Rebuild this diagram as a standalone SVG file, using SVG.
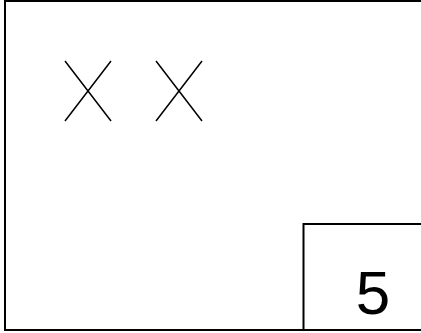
<svg xmlns="http://www.w3.org/2000/svg" width="421" height="333" viewBox="0 0 421 333">
<style>
.box{fill:#fff;stroke:#000;stroke-width:2}
.x{stroke:#000;stroke-width:1.5;fill:none}
.lbl{font-family:"Liberation Sans",Arial,sans-serif;font-size:62px;fill:#000}
</style>
<rect width="421" height="333" fill="#fff"/>
<g id="outer">
<rect class="box" x="5" y="1" width="425" height="329"/>
</g>
<g id="crosses">
<path class="x" d="M65 61 L111 121 M111 61 L65 121"/>
<path class="x" d="M156 61 L202 121 M202 61 L156 121"/>
</g>
<g id="node5">
<rect class="box" x="303.5" y="224" width="126.5" height="106"/>
<text class="lbl" x="373" y="314" text-anchor="middle">5</text>
</g>
<g id="connectors"></g>
</svg>
